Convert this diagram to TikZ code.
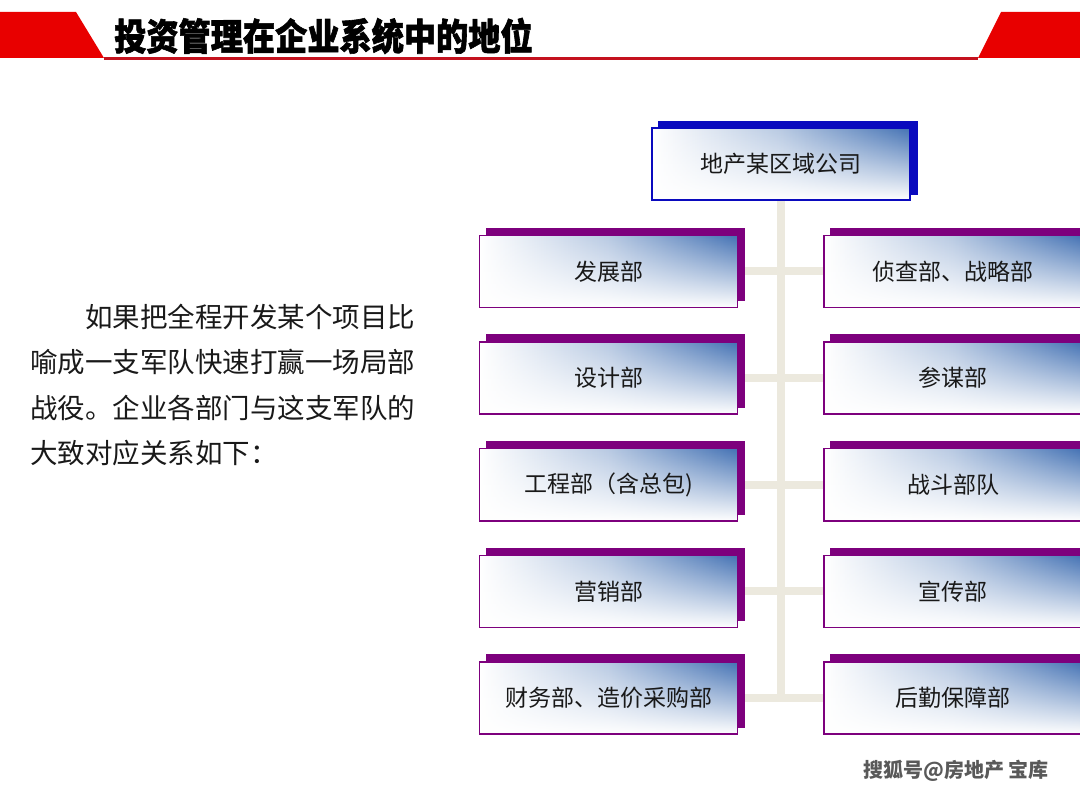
\documentclass[tikz,border=0pt]{standalone}
\usepackage{fontspec}
\setmainfont{Noto Sans CJK SC}
\newfontfamily\titlefont{Noto Sans CJK SC}[FakeStretch=0.87, FakeBold=1.6]
\usetikzlibrary{positioning, shadows, fadings, backgrounds}
\definecolor{hdrred}{RGB}{232,0,0}
\definecolor{rulered}{RGB}{196,18,30}
\definecolor{deptpurple}{RGB}{125,0,125}
\definecolor{corpblue}{RGB}{10,10,190}
\definecolor{boxsteel}{RGB}{68,114,180}
\definecolor{linkbeige}{RGB}{236,233,222}
\definecolor{txtdark}{RGB}{25,25,25}

\begin{document}
\begin{tikzpicture}[x=1pt, y=-1pt,
  node distance=33pt and 85pt,
  orgbox/.style={line width=1.6pt, minimum width=258pt, minimum height=72pt,
                 inner sep=0pt, font=\fontsize{23}{26}\selectfont, text=txtdark,
                 left color=white, right color=boxsteel, middle color=boxsteel!38,
                 path picture={\fill[white, path fading=north]
                   (path picture bounding box.south west) rectangle
                   (path picture bounding box.north east);}},
  dept/.style={orgbox, draw=deptpurple,
               copy shadow={shadow xshift=7pt, shadow yshift=7pt,
                            fill=deptpurple, draw=deptpurple}},
  corp/.style={orgbox, draw=corpblue,
               copy shadow={shadow xshift=7pt, shadow yshift=6pt,
                            fill=corpblue, draw=corpblue}},
  linkbar/.style={draw=linkbeige, line width=8pt},
  para/.style={align=left, inner sep=0pt, text=txtdark,
               font=\fontsize{27.5}{45.3}\selectfont}
]
  \useasboundingbox (0,0) rectangle (1080,794);

  % header band
  \fill[hdrred] (0,12) -- (76,12) -- (104,58) -- (0,58) -- cycle;
  \fill[hdrred] (1001,12) -- (1080,12) -- (1080,58) -- (978,58) -- cycle;
  \draw[rulered, line width=3pt] (104,58.5) -- (978,58.5);
  \node[anchor=west, inner sep=0pt, font=\titlefont\bfseries\fontsize{37}{40}\selectfont]
       (title) at (114,36) {投资管理在企业系统中的地位};

  % intro text
  \node[para, anchor=north west] (intro) at (30,304)
       {\hspace*{2em}如果把全程开发某个项目比\\
        喻成一支军队快速打赢一场局部\\
        战役。企业各部门与这支军队的\\
        大致对应关系如下：};

  % org chart
  \node[corp] (corp) at (781,164) {地产某区域公司};

  \node[dept] (dev) at (608.5,271.5) {发展部};
  \node[dept, below=of dev]     (design) {设计部};
  \node[dept, below=of design]  (eng)    {工程部（含总包)};
  \node[dept, below=of eng]     (sales)  {营销部};
  \node[dept, below=of sales]   (fin)    {财务部、造价采购部};

  \node[dept, right=of dev]     (recon)  {侦查部、战略部};
  \node[dept, right=of design]  (staff)  {参谋部};
  \node[dept, right=of eng]     (combat) {战斗部队};
  \node[dept, right=of sales]   (promo)  {宣传部};
  \node[dept, right=of fin]     (supply) {后勤保障部};

  \begin{scope}[on background layer]
    \draw[linkbar] (corp.south) -- ([yshift=-4pt]corp.south |- fin.east);
    \draw[linkbar] (dev.east)    -- (recon.west);
    \draw[linkbar] (design.east) -- (staff.west);
    \draw[linkbar] (eng.east)    -- (combat.west);
    \draw[linkbar] (sales.east)  -- (promo.west);
    \draw[linkbar] (fin.east)    -- (supply.west);
  \end{scope}

  \node[font=\bfseries\fontsize{20}{22}\selectfont, text=black!65]
       (mark) at (956,771) {搜狐号@房地产 宝库};
\end{tikzpicture}
\end{document}
